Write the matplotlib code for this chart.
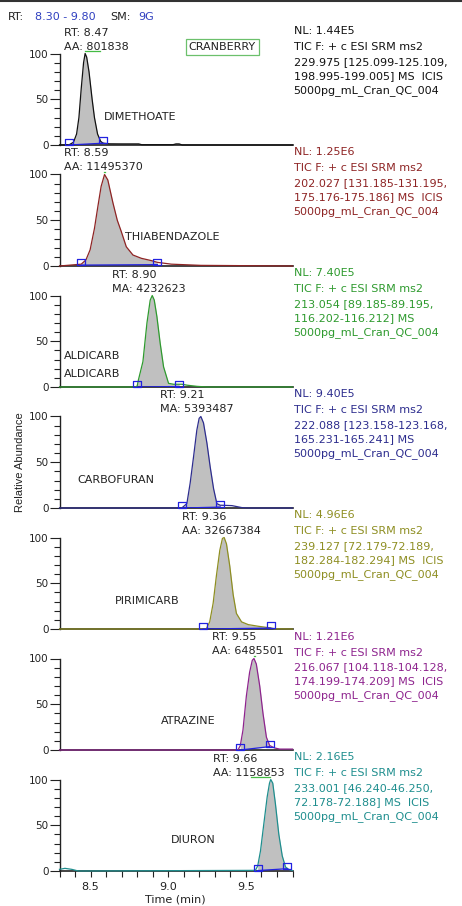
import numpy as np
import matplotlib
matplotlib.use('Agg')
import matplotlib.pyplot as plt
from matplotlib.path import Path
from matplotlib.lines import Line2D
from matplotlib.ticker import MultipleLocator, FixedLocator

plt.rcParams['font.family'] = ['DejaVu Sans']

# ---------------- data ----------------
t_dimethoate = [8.30, 8.36, 8.39, 8.41, 8.425, 8.44, 8.455, 8.465, 8.475, 8.49, 8.51, 8.525, 8.545, 8.565,
                8.58, 8.62, 8.70, 8.81, 8.83, 9.03, 9.05, 9.07, 9.09, 9.80]
y_dimethoate = [0, 0, 3, 12, 30, 62, 90, 100, 96, 80, 50, 30, 12, 4, 2, 1.3, 1.2, 1.2, 0.3, 0.3, 1.2, 1.2, 0, 0]

t_thiabendazole = [8.30, 8.37, 8.44, 8.47, 8.497, 8.525, 8.547, 8.568, 8.59, 8.611, 8.644, 8.672, 8.697,
                   8.73, 8.773, 8.827, 8.891, 8.93, 9.02, 9.21, 9.80]
y_thiabendazole = [0, 1, 2, 6.6, 17.6, 41, 65, 87, 100, 94, 69, 50, 38, 21, 12, 8.4, 5.9, 4, 2, 0.7, 0]

t_aldicarb = [8.30, 8.787, 8.80, 8.808, 8.837, 8.863, 8.884, 8.897, 8.91, 8.927, 8.948, 8.97, 9.002, 9.034,
              9.07, 9.088, 9.12, 9.185, 9.25, 9.80]
y_aldicarb = [0, 0, 1, 7.7, 27.7, 70, 95, 100, 95, 77, 48, 22, 4, 3, 3, 3, 2, 0.7, 0, 0]

t_carbofuran = [8.30, 9.087, 9.12, 9.141, 9.163, 9.184, 9.199, 9.21, 9.227, 9.249, 9.27, 9.292, 9.313,
                9.335, 9.345, 9.41, 9.475, 9.518, 9.80]
y_carbofuran = [0, 0, 4.8, 27, 56, 85, 98, 100, 93, 71, 45, 21, 4.8, 3, 3, 2.6, 0.4, 0, 0]

t_pirimicarb = [8.30, 9.224, 9.246, 9.267, 9.289, 9.31, 9.332, 9.349, 9.36, 9.375, 9.396, 9.418, 9.439,
                9.472, 9.515, 9.579, 9.644, 9.659, 9.686, 9.80]
y_pirimicarb = [0, 0, 0.5, 7.8, 28, 58, 86, 99, 100, 93, 69, 37.5, 17, 7.8, 4.8, 3, 1.5, 1.2, 0.2, 0]

t_atrazine = [8.30, 9.449, 9.464, 9.481, 9.503, 9.524, 9.541, 9.552, 9.567, 9.589, 9.61, 9.632, 9.653,
              9.685, 9.718, 9.80]
y_atrazine = [0, 0, 4.9, 21.6, 59, 85, 98, 100, 94, 70, 40, 14, 4.9, 2.2, 1, 1]

t_diuron = [8.30, 8.335, 8.379, 8.421, 9.561, 9.576, 9.594, 9.615, 9.637, 9.652, 9.66, 9.673, 9.69,
            9.712, 9.734, 9.755, 9.766, 9.776, 9.80]
y_diuron = [1.8, 2.9, 1.8, 0, 0.7, 5.5, 22, 51, 81, 96, 100, 96, 73.5, 40, 16.5, 4.4, 3, 1.8, 0.5]

times = [t_dimethoate, t_thiabendazole, t_aldicarb, t_carbofuran, t_pirimicarb, t_atrazine, t_diuron]
abund = [y_dimethoate, y_thiabendazole, y_aldicarb, y_carbofuran, y_pirimicarb, y_atrazine, y_diuron]

# integration limits (start, end) and baseline level at each
peak_start = [8.36, 8.44, 8.80, 9.087, 9.224, 9.464, 9.576]
peak_end = [8.58, 8.93, 9.07, 9.335, 9.659, 9.653, 9.766]
base_start = [0, 1, 0, 0, 0, 0, 0.5]
base_end = [2, 1.5, 0.5, 1, 1, 3.7, 2.5]

names = [['DIMETHOATE'], ['THIABENDAZOLE'], ['ALDICARB', 'ALDICARB'], ['CARBOFURAN'],
         ['PIRIMICARB'], ['ATRAZINE'], ['DIURON']]
rt_text = ['RT: 8.47', 'RT: 8.59', 'RT: 8.90', 'RT: 9.21', 'RT: 9.36', 'RT: 9.55', 'RT: 9.66']
area_text = ['AA: 801838', 'AA: 11495370', 'MA: 4232623', 'MA: 5393487', 'AA: 32667384',
             'AA: 6485501', 'AA: 1158853']
nl_text = ['NL: 1.44E5', 'NL: 1.25E6', 'NL: 7.40E5', 'NL: 9.40E5', 'NL: 4.96E6', 'NL: 1.21E6', 'NL: 2.16E5']
scan_text = [
    ['229.975 [125.099-125.109,', '198.995-199.005] MS  ICIS'],
    ['202.027 [131.185-131.195,', '175.176-175.186] MS  ICIS'],
    ['213.054 [89.185-89.195,', '116.202-116.212] MS'],
    ['222.088 [123.158-123.168,', '165.231-165.241] MS'],
    ['239.127 [72.179-72.189,', '182.284-182.294] MS  ICIS'],
    ['216.067 [104.118-104.128,', '174.199-174.209] MS  ICIS'],
    ['233.001 [46.240-46.250,', '72.178-72.188] MS  ICIS'],
]
filter_line = 'TIC F: + c ESI SRM ms2'
file_name = '5000pg_mL_Cran_QC_004'

colors = ['#111111', '#8E2424', '#2E9A2E', '#2D2D8E', '#8E8E22', '#8E248E', '#1F8E8E']

# ---------------- layout (pixels) ----------------
W, H = 462, 906
AX_L, AX_W, AX_H = 59.5, 233, 91.5
PX = 0.72  # px -> pt at dpi 100

rt_x = [8.331, 8.331, 8.637, 8.944, 9.088, 9.282, 9.286]       # left edge of RT/AA label
name_x = [8.583, 8.723, 8.329, 8.415, 8.658, 8.953, 9.017]
name_dy = [[66.5], [66], [63.5, 81.5], [66.5], [66.5], [66], [63.5]]  # baseline px below 100 line
apex_mark = [(8.465, 8.56), (8.585, 8.595), None, None, None, (9.55, 9.558), (9.535, 9.655)]

blue = '#2222E0'
box = Path([(-1, 0), (1, 0), (1, 1.4), (-1, 1.4), (-1, 0)])

fig = plt.figure(figsize=(W / 100, H / 100), dpi=100)

for i in range(7):
    y0 = 145 + 121 * i
    ax = fig.add_axes([AX_L / W, 1 - y0 / H, AX_W / W, AX_H / H])
    ax.set_xlim(8.30, 9.80)
    ax.set_ylim(0, 100)
    c = colors[i]
    t = np.array(times[i])
    y = np.array(abund[i])

    m = (t >= peak_start[i]) & (t <= peak_end[i])
    base = np.interp(t[m], [peak_start[i], peak_end[i]], [base_start[i], base_end[i]])
    ax.fill_between(t[m], y[m], base, color='#C0C0C0', lw=0, zorder=1)
    ax.plot(t, y, color=c, lw=0.9, clip_on=False, zorder=3)
    ax.plot([peak_start[i], peak_end[i]], [base_start[i], base_end[i]], color=blue, lw=0.9, zorder=4)
    ax.plot([peak_start[i], peak_end[i]], [base_start[i], base_end[i]], ls='none', marker=box, ms=8,
            mfc='none', mec=blue, mew=0.9, clip_on=False, zorder=5)
    if apex_mark[i] is not None:
        ax.plot(apex_mark[i], [103, 103], color='#44BB44', lw=0.9, clip_on=False, zorder=5)

    for s in ['top', 'right']:
        ax.spines[s].set_visible(False)
    ax.spines['left'].set_linewidth(1.0)
    ax.spines['bottom'].set_linewidth(1.2)
    ax.spines['left'].set_color('#222222')
    ax.spines['bottom'].set_color('#222222')

    ax.yaxis.set_major_locator(FixedLocator([0, 50, 100]))
    ax.yaxis.set_minor_locator(MultipleLocator(10))
    ax.tick_params(axis='y', which='major', length=7, width=0.8, pad=1, labelsize=7.5,
                   colors='#222222')
    ax.tick_params(axis='y', which='minor', length=4, width=0.8, colors='#222222')

    if i == 6:
        ax.xaxis.set_major_locator(FixedLocator([8.5, 9.0, 9.5]))
        ax.xaxis.set_minor_locator(MultipleLocator(0.1))
        ax.xaxis.set_major_formatter(plt.FormatStrFormatter('%.1f'))
        ax.tick_params(axis='x', which='both', length=4.3, width=0.8, pad=3.3, labelsize=8,
                       colors='#222222')
    else:
        ax.tick_params(axis='x', which='both', bottom=False, labelbottom=False)

    # RT / area above the peak
    for txt, dy in [(rt_text[i], 18), (area_text[i], 4)]:
        ax.annotate(txt, xy=(rt_x[i], 1), xycoords=('data', 'axes fraction'),
                    xytext=(0, dy * PX), textcoords='offset points', ha='left', va='baseline',
                    fontsize=8, color='#222222', annotation_clip=False)

    # compound name(s)
    for nm, dy in zip(names[i], name_dy[i]):
        ax.text(name_x[i], 1 - dy / AX_H, nm, transform=ax.get_xaxis_transform(), ha='left',
                va='baseline', fontsize=8, color='#222222')

    # header on the right
    lines = [nl_text[i], filter_line, scan_text[i][0], scan_text[i][1], file_name]
    offs = [19, 3, -11.2, -25.4, -39.6]
    for txt, dy in zip(lines, offs):
        ax.annotate(txt, xy=(1, 1), xycoords='axes fraction', xytext=(1 * PX, dy * PX),
                    textcoords='offset points', ha='left', va='baseline', fontsize=8, color=c,
                    annotation_clip=False)

    if i == 0:
        ax.text(9.348, 1 + 6.5 / AX_H, 'CRANBERRY', transform=ax.get_xaxis_transform(), ha='center',
                va='center', fontsize=8, color='#222222',
                bbox=dict(boxstyle='square,pad=0.25', fc='white', ec='#6CC06C', lw=0.9))

# top header
hb = 1 - 19.5 / H
fig.text(8.3 / W, hb, 'RT:', fontsize=8, va='baseline', color='#222222')
fig.text(35 / W, hb, '8.30 - 9.80', fontsize=8, va='baseline', color='#3040C0')
fig.text(110 / W, hb, 'SM:', fontsize=8, va='baseline', color='#222222')
fig.text(138 / W, hb, '9G', fontsize=8, va='baseline', color='#3040C0')
fig.add_artist(Line2D([0, 1], [1 - 1 / H, 1 - 1 / H], color='#333333', lw=1.5))

fig.text(20 / W, 1 - 462 / H, 'Relative Abundance', rotation=90, ha='center', va='center',
         fontsize=8, family='Liberation Sans', color='#222222')
fig.text(175.5 / W, 1 - 900 / H, 'Time (min)', ha='center', va='center', fontsize=8,
         color='#222222')

fig.savefig('out.png', dpi=100)
